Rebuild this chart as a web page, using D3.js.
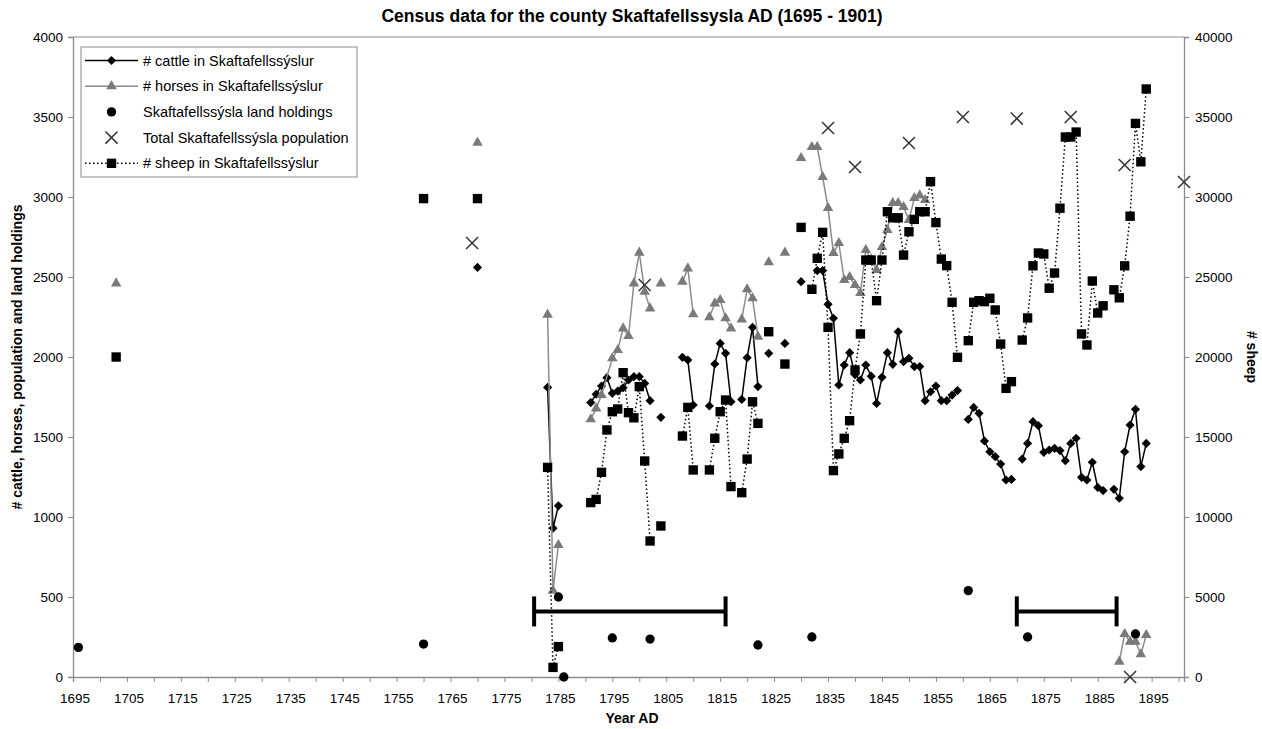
<!DOCTYPE html>
<html>
<head>
<meta charset="utf-8">
<script src="https://cdn.jsdelivr.net/npm/d3@7"></script>
<style>
  body { margin: 0; background: #fff; }
  svg { font-family: "Liberation Sans", Arial, sans-serif; }
</style>
</head>
<body>
<div id="chart"></div>
<script>
// Census data, Skaftafellssysla 1695 - 1901
// null = gap in the line

const cattle = [
  [1770, 2560], null,
  [1783, 1810], [1784, 930], [1785, 1070], null,
  [1791, 1715], [1792, 1767], [1793, 1819], [1794, 1871], [1795, 1773], [1796, 1787], [1797, 1808],
  [1798, 1856], [1799, 1877], [1800, 1877], [1801, 1835], [1802, 1727], null,
  [1804, 1623], null,
  [1808, 1998], [1809, 1981], [1810, 1700], null,
  [1813, 1694], [1814, 1956], [1815, 2085], [1816, 2023], [1817, 1721], null,
  [1819, 1735], [1820, 1996], [1821, 2185], [1822, 1815], null,
  [1824, 2023], null, [1827, 2085], null, [1830, 2471], null,
  [1833, 2540], [1834, 2540], [1835, 2329], [1836, 2242], [1837, 1825], [1838, 1950], [1839, 2027],
  [1840, 1890], [1841, 1856], [1842, 1950], [1843, 1880], [1844, 1710], [1845, 1873], [1846, 2027],
  [1847, 1954], [1848, 2158], [1849, 1971], [1850, 1992], [1851, 1940], [1852, 1940], [1853, 1727],
  [1854, 1783], [1855, 1819], [1856, 1727], [1857, 1727], [1858, 1762], [1859, 1790], null,
  [1861, 1610], [1862, 1685], [1863, 1648], [1864, 1475], [1865, 1408], [1866, 1377], [1867, 1331],
  [1868, 1231], [1869, 1235], null,
  [1871, 1362], [1872, 1460], [1873, 1596], [1874, 1571], [1875, 1404], [1876, 1419], [1877, 1429],
  [1878, 1415], [1879, 1352], [1880, 1460], [1881, 1492], [1882, 1248], [1883, 1231], [1884, 1342],
  [1885, 1185], [1886, 1165], null,
  [1888, 1173], [1889, 1117], [1890, 1408], [1891, 1575], [1892, 1673], [1893, 1315], [1894, 1460]
];

const horses = [
  [1703, 2460], null, [1770, 3340], null,
  [1783, 2265], [1784, 540], [1785, 825], null,
  [1791, 1611], [1792, 1679], [1793, 1762], [1795, 1992], [1796, 2044], [1797, 2179], [1798, 2131],
  [1799, 2460], [1800, 2652], [1801, 2408], [1802, 2304], null,
  [1804, 2460], null,
  [1808, 2471], [1809, 2554], [1810, 2267], null,
  [1813, 2248], [1814, 2335], [1815, 2356], [1816, 2242], [1817, 2179], null,
  [1819, 2235], [1820, 2423], [1821, 2367], [1822, 2127], null,
  [1824, 2592], null, [1827, 2652], null, [1830, 3244], null,
  [1832, 3312], [1833, 3312], [1834, 3125], [1835, 2931], [1836, 2650], [1837, 2712], [1838, 2481],
  [1839, 2500], [1840, 2450], [1841, 2400], [1842, 2669], [1843, 2610], [1844, 2544], [1845, 2687],
  [1846, 2794], [1847, 2962], [1848, 2962], [1849, 2937], [1850, 2856], [1851, 2994], [1852, 3010],
  [1853, 2981], null,
  [1889, 96], [1890, 269], [1891, 221], [1892, 221], [1893, 142], [1894, 262]
];

const landHoldings = [
  [1696, 185], [1760, 206], [1785, 500], [1786, 0], [1795, 244], [1802, 237],
  [1822, 200], [1832, 250], [1861, 540], [1872, 250], [1892, 269]
];

const population = [
  [1769, 2712], [1801, 2450], [1835, 3431], [1840, 3187], [1850, 3337], [1860, 3500],
  [1870, 3490], [1880, 3500], [1890, 3200], [1891, 0], [1901, 3094]
];

const sheep = [
  [1703, 20000], null, [1760, 29900], null, [1770, 29900], null,
  [1783, 13100], [1784, 600], [1785, 1900], null,
  [1791, 10900], [1792, 11100], [1793, 12790], [1794, 15440], [1795, 16580], [1796, 16750],
  [1797, 19020], [1798, 16520], [1799, 16200], [1800, 18150], [1801, 13500], [1802, 8500], null,
  [1804, 9440], null,
  [1808, 15060], [1809, 16850], [1810, 12940], null,
  [1813, 12940], [1814, 14920], [1815, 16580], [1816, 17310], [1817, 11900], null,
  [1819, 11520], [1820, 13620], [1821, 17200], [1822, 15850], null,
  [1824, 21580], null, [1827, 19560], null, [1830, 28100], null,
  [1832, 24230], [1833, 26170], [1834, 27790], [1835, 21850], [1836, 12900], [1837, 13940],
  [1838, 14920], [1839, 16020], [1840, 19190], [1841, 21440], [1842, 26060], [1843, 26060],
  [1844, 23520], [1845, 26060], [1846, 29080], [1847, 28700], [1848, 28700], [1849, 26370],
  [1850, 27830], [1851, 28600], [1852, 29080], [1853, 29080], [1854, 30960], [1855, 28400],
  [1856, 26120], [1857, 25710], [1858, 23420], [1859, 19980], null,
  [1861, 21020], [1862, 23420], [1863, 23520], [1864, 23460], [1865, 23670], [1866, 22940],
  [1867, 20810], [1868, 18040], [1869, 18460], null,
  [1871, 21060], [1872, 22440], [1873, 25700], [1874, 26500], [1875, 26440], [1876, 24300],
  [1877, 25250], [1878, 29300], [1879, 33750], [1880, 33750], [1881, 34060], [1882, 21440],
  [1883, 20750], [1884, 24750], [1885, 22750], [1886, 23200], null,
  [1888, 24200], [1889, 23700], [1890, 25700], [1891, 28800], [1892, 34600], [1893, 32200],
  [1894, 36750]
];

// horizontal bars (periods) drawn at a fixed level of the left axis
const periods = [[1780.5, 1816], [1870, 1888.5]];
const periodLevel = 410;

const leftTicks = d3.range(0, 4001, 500);
const rightTicks = d3.range(0, 40001, 5000);
const yearTicks = d3.range(1695, 1901, 5);
const yearLabels = d3.range(1695, 1896, 10);

const legendLabels = [
  "# cattle in Skaftafellssýslur",
  "# horses in Skaftafellssýslur",
  "Skaftafellssýsla land holdings",
  "Total Skaftafellssýsla population",
  "# sheep in Skaftafellssýslur"
];

// Layout
const width = 1262;
const height = 729;
const margin = {left: 73, right: 78, top: 37, bottom: 52};
const gray = "#8c8c8c";

const svg = d3.select("#chart")
  .append("svg")
  .attr("width", width)
  .attr("height", height);

const x = d3.scaleLinear()
  .domain([1695, 1901])
  .range([margin.left, width - margin.right]);

const yLeft = d3.scaleLinear()
  .domain([0, 4000])
  .range([height - margin.bottom, margin.top]);

const yRight = d3.scaleLinear()
  .domain([0, 40000])
  .range([height - margin.bottom, margin.top]);

// plot border top
svg.append("line")
  .attr("x1", x.range()[0]).attr("x2", x.range()[1])
  .attr("y1", margin.top).attr("y2", margin.top)
  .attr("stroke", gray);

// Axes
const xAxis = svg.append("g")
  .attr("transform", `translate(0,${height - margin.bottom})`)
  .call(d3.axisBottom(x).tickValues(yearTicks).tickSize(5).tickFormat(""));
xAxis.selectAll("g.lbl")
  .data(yearLabels)
  .enter()
  .append("text")
    .attr("x", d => x(d) + 2)
    .attr("y", 26)
    .attr("text-anchor", "middle")
    .attr("fill", "#000")
    .attr("font-size", "13.5px")
    .text(d => d);

const leftAxis = svg.append("g")
  .attr("transform", `translate(${margin.left},0)`)
  .call(d3.axisLeft(yLeft).tickValues(leftTicks).tickSize(5).tickPadding(5)
          .tickFormat(d3.format("d")));

const rightAxis = svg.append("g")
  .attr("transform", `translate(${width - margin.right},0)`)
  .call(d3.axisRight(yRight).tickValues(rightTicks).tickSize(5).tickPadding(6)
          .tickFormat(d3.format("d")));

[xAxis, leftAxis, rightAxis].forEach(g => {
  g.select(".domain").attr("stroke", gray).attr("stroke-width", 1.3);
  g.selectAll(".tick line").attr("stroke", gray);
  g.selectAll(".tick text").attr("font-size", "13.5px").attr("fill", "#000");
  g.attr("font-family", null);
});

// Titles
svg.append("text")
  .attr("x", 632).attr("y", 22)
  .attr("text-anchor", "middle")
  .attr("font-weight", "bold")
  .attr("font-size", "17.5px")
  .text("Census data for the county Skaftafellssysla AD (1695 - 1901)");

svg.append("text")
  .attr("x", 632).attr("y", 723)
  .attr("text-anchor", "middle")
  .attr("font-weight", "bold")
  .attr("font-size", "14px")
  .text("Year AD");

svg.append("text")
  .attr("transform", `translate(22,${yLeft(2000)}) rotate(-90)`)
  .attr("text-anchor", "middle")
  .attr("font-weight", "bold")
  .attr("font-size", "14px")
  .text("# cattle, horses, population and land holdings");

svg.append("text")
  .attr("transform", `translate(1247,${yLeft(2000)}) rotate(90)`)
  .attr("text-anchor", "middle")
  .attr("font-weight", "bold")
  .attr("font-size", "14px")
  .text("# sheep");

// Period bars
const bars = svg.append("g");
periods.forEach(p => {
  const yb = yLeft(periodLevel);
  bars.append("line")
    .attr("x1", x(p[0])).attr("x2", x(p[1]))
    .attr("y1", yb).attr("y2", yb)
    .attr("stroke", "#000").attr("stroke-width", 4);
  p.forEach(v => {
    bars.append("line")
      .attr("x1", x(v)).attr("x2", x(v))
      .attr("y1", yb - 15).attr("y2", yb + 15)
      .attr("stroke", "#000").attr("stroke-width", 4);
  });
});

// Symbols
const diamond = d3.symbol(d3.symbolSquare, 42);
const triangle = d3.symbol(d3.symbolTriangle, 48);
const square = d3.symbol(d3.symbolSquare, 88);
const circle = d3.symbol(d3.symbolCircle, 68);
const cross = d3.symbol(d3.symbolX, 96);

function drawSeries(data, yScale, opts) {
  const g = svg.append("g");
  if (opts.line) {
    const line = d3.line()
      .defined(d => d !== null)
      .x(d => x(d[0]))
      .y(d => yScale(d[1]));
    g.append("path")
      .datum(data)
      .attr("fill", "none")
      .attr("stroke", opts.lineColor)
      .attr("stroke-width", opts.lineWidth)
      .attr("stroke-dasharray", opts.dash || null)
      .attr("d", line);
  }
  g.selectAll("path.pt")
    .data(data.filter(d => d !== null))
    .enter()
    .append("path")
      .attr("class", "pt")
      .attr("transform", d => `translate(${x(d[0])},${yScale(d[1])}) rotate(${opts.rotate || 0})`)
      .attr("d", opts.symbol)
      .attr("fill", opts.fill)
      .attr("stroke", opts.stroke || "none")
      .attr("stroke-width", opts.strokeWidth || 0);
}

const cattleStyle = {line: true, lineColor: "#000", lineWidth: 1.5, symbol: diamond, rotate: 45, fill: "#000"};
const horseStyle = {line: true, lineColor: "#8c8c8c", lineWidth: 1.5, symbol: triangle, fill: "#7a7a7a"};
const landStyle = {symbol: circle, fill: "#000"};
const popStyle = {symbol: cross, fill: "none", stroke: "#333", strokeWidth: 1.5};
const sheepStyle = {line: true, lineColor: "#000", lineWidth: 1.5, dash: "1.5,2.5", symbol: square, fill: "#000"};

drawSeries(cattle, yLeft, cattleStyle);
drawSeries(horses, yLeft, horseStyle);
drawSeries(landHoldings, yLeft, landStyle);
drawSeries(population, yLeft, popStyle);
drawSeries(sheep, yRight, sheepStyle);

// Legend
const legend = svg.append("g").attr("transform", "translate(81,47)");
legend.append("rect")
  .attr("width", 276).attr("height", 130)
  .attr("fill", "#fff")
  .attr("stroke", gray);

const styles = [cattleStyle, horseStyle, landStyle, popStyle, sheepStyle];
legendLabels.forEach((label, i) => {
  const cy = 13.5 + i * 25.7;
  const st = styles[i];
  if (st.line) {
    legend.append("line")
      .attr("x1", 4).attr("x2", 57)
      .attr("y1", cy).attr("y2", cy)
      .attr("stroke", st.lineColor)
      .attr("stroke-width", st.lineWidth)
      .attr("stroke-dasharray", st.dash || null);
  }
  legend.append("path")
    .attr("transform", `translate(30.5,${cy}) rotate(${st.rotate || 0})`)
    .attr("d", st.symbol)
    .attr("fill", st.fill)
    .attr("stroke", st.stroke || "none")
    .attr("stroke-width", st.strokeWidth || 0);
  legend.append("text")
    .attr("x", 62).attr("y", cy + 5)
    .attr("font-size", "14.5px")
    .text(label);
});
</script>
</body>
</html>
